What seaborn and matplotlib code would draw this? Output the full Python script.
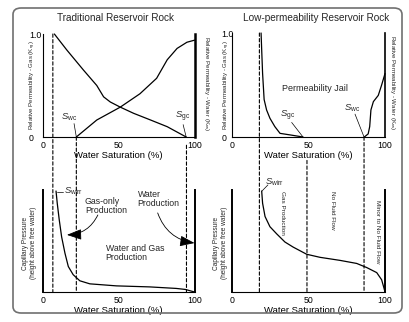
import matplotlib
matplotlib.use('Agg')
import matplotlib.pyplot as plt
import seaborn as sns
import pandas as pd
from matplotlib import font_manager
from matplotlib.patches import ConnectionPatch, FancyBboxPatch

sns.set_style('white')
plt.rcParams['font.family'] = ['Liberation Sans', 'DejaVu Sans']
plt.rcParams['mathtext.fontset'] = 'custom'
plt.rcParams['mathtext.rm'] = 'Liberation Sans'
plt.rcParams['mathtext.it'] = 'Liberation Sans:italic'
plt.rcParams['mathtext.bf'] = 'Liberation Sans:bold'

_installed = {f.name for f in font_manager.fontManager.ttflist}
if 'Liberation Sans Narrow' in _installed:
    NARROW = ['Liberation Sans Narrow', 'Liberation Sans', 'DejaVu Sans']
    NSCALE = 1.2
else:
    NARROW = ['Liberation Sans', 'DejaVu Sans']
    NSCALE = 1.0

# ---------------- data ----------------
panel_titles = ['Traditional Reservoir Rock', 'Low-permeability Reservoir Rock']
x_ticks = [0, 50, 100]
x_tick_labels = ['0', '50', '100']
kr_ticks = [0, 1.0]
kr_tick_labels = ['0', '1.0']

trad_gas_sw = [7.5, 15.7, 26.7, 35.5, 40, 44.4, 51, 59.8, 71, 82, 94.5]
trad_gas_kr = [1.0, 0.845, 0.65, 0.50, 0.39, 0.34, 0.29, 0.23, 0.165, 0.10, 0.0]
trad_wat_sw = [22, 35.5, 51, 64, 75, 82, 88.5, 95, 100]
trad_wat_kr = [0.0, 0.165, 0.29, 0.42, 0.57, 0.75, 0.86, 0.92, 0.94]

low_gas_sw = [19, 19.4, 20, 21, 22.6, 24.8, 28, 31.4, 38, 46.4]
low_gas_kr = [1.0, 0.84, 0.61, 0.36, 0.26, 0.18, 0.10, 0.035, 0.02, 0.0]
low_wat_sw = [86.5, 89, 90, 90.8, 92.4, 95.6, 97.8, 100]
low_wat_kr = [0.0, 0.03, 0.10, 0.26, 0.34, 0.40, 0.50, 0.61]

trad_pc_sw = [8.6, 9.4, 10.7, 12.3, 14.5, 16.7, 19.9, 24.3, 30.9, 48.5, 70.4, 88, 94, 100]
trad_pc = [0.99, 0.87, 0.71, 0.54, 0.38, 0.25, 0.17, 0.11, 0.08, 0.06, 0.05, 0.035, 0.025, 0.0]
low_pc_sw = [19.4, 20, 21.6, 24.8, 29.2, 34.6, 40, 48.8, 57.5, 70.6, 81.5, 88, 94.6, 97.8, 99.3, 100]
low_pc = [0.99, 0.87, 0.74, 0.64, 0.57, 0.49, 0.44, 0.37, 0.34, 0.31, 0.28, 0.24, 0.19, 0.12, 0.04, 0.0]

trad_cutoffs = [6.5, 22, 94.7]      # Swirr, Swc, Sgc dashed lines
low_cutoffs = [17.9, 49, 86.3]

# ---------------- figure ----------------
W, H = 409, 322
fig = plt.figure(figsize=(W / 100, H / 100), dpi=100)


def add_ax(x0, y0, x1, y1):
    return fig.add_axes([x0 / W, 1 - y1 / H, (x1 - x0) / W, (y1 - y0) / H])


ax_tl = add_ax(43, 34, 194.5, 137)
ax_tr = add_ax(232, 33, 385, 137)
ax_bl = add_ax(43, 190, 194.5, 292)
ax_br = add_ax(232, 190, 385, 292)

LW = 0.9
for ax in (ax_tl, ax_tr, ax_bl, ax_br):
    ax.set_xlim(0, 100)
    ax.set_ylim(0, 1)
    ax.set_facecolor('none')
    ax.spines['top'].set_visible(False)
    for s in ('left', 'right', 'bottom'):
        ax.spines[s].set_color('black')
        ax.spines[s].set_linewidth(0.8)
    ax.set_xticks(x_ticks)
    ax.set_xticklabels(x_tick_labels)
    ax.tick_params(axis='both', length=0, pad=3, labelsize=6.3, colors='black')
    ax.set_xlabel('Water Saturation (%)', fontsize=6.8, labelpad=0.8, color='black')

ax_tl.spines['right'].set_linewidth(1.8)
ax_tr.spines['right'].set_linewidth(1.2)
for ax in (ax_bl, ax_br):
    ax.spines['left'].set_linewidth(1.4)
    ax.spines['right'].set_linewidth(1.4)
    ax.set_yticks([])

for ax, pad in ((ax_tl, 10), (ax_tr, 7.5)):
    ax.set_yticks(kr_ticks)
    ax.set_yticklabels(kr_tick_labels)
    ax.tick_params(axis='y', pad=pad)
    for lbl in ax.get_yticklabels():
        lbl.set_horizontalalignment('left')

# curves
sns.lineplot(x=trad_gas_sw, y=trad_gas_kr, ax=ax_tl, color='black', lw=LW, sort=False, estimator=None)
sns.lineplot(x=trad_wat_sw, y=trad_wat_kr, ax=ax_tl, color='black', lw=LW, sort=False, estimator=None)
sns.lineplot(x=low_gas_sw, y=low_gas_kr, ax=ax_tr, color='black', lw=LW, sort=False, estimator=None)
sns.lineplot(x=low_wat_sw, y=low_wat_kr, ax=ax_tr, color='black', lw=LW, sort=False, estimator=None)
sns.lineplot(x=trad_pc_sw, y=trad_pc, ax=ax_bl, color='black', lw=LW, sort=False, estimator=None)
sns.lineplot(x=low_pc_sw, y=low_pc, ax=ax_br, color='black', lw=LW, sort=False, estimator=None)
for ax in (ax_tl, ax_tr, ax_bl, ax_br):
    for ln in ax.lines:
        ln.set_clip_on(False)

# titles
ax_tl.text(0.48, 1.155, panel_titles[0], transform=ax_tl.transAxes, ha='center', va='center', fontsize=7.2)
ax_tr.text(0.55, 1.145, panel_titles[1], transform=ax_tr.transAxes, ha='center', va='center', fontsize=7.2)

# y labels
YL = 4.4 * NSCALE
gas_lbl = 'Relative Permeability - Gas (K$_{\\rm rg}$)'
wat_lbl = 'Relative Permeability - Water (K$_{\\rm rw}$)'
ax_tl.text(-0.066, 0.5, gas_lbl, transform=ax_tl.transAxes, rotation=90, ha='center', va='center', fontsize=YL, family=NARROW)
ax_tl.text(1.08, 0.52, wat_lbl, transform=ax_tl.transAxes, rotation=270, ha='center', va='center', fontsize=YL, family=NARROW)
ax_tr.text(-0.033, 0.5, gas_lbl, transform=ax_tr.transAxes, rotation=90, ha='center', va='center', fontsize=YL, family=NARROW)
ax_tr.text(1.05, 0.52, wat_lbl, transform=ax_tr.transAxes, rotation=270, ha='center', va='center', fontsize=YL, family=NARROW)
pc_lbl = 'Capillary Pressure\n(height above free water)'
ax_bl.text(-0.09, 0.48, pc_lbl, transform=ax_bl.transAxes, rotation=90, ha='center', va='center', fontsize=4.7 * NSCALE, family=NARROW, linespacing=1.25)
ax_br.text(-0.075, 0.48, pc_lbl, transform=ax_br.transAxes, rotation=90, ha='center', va='center', fontsize=4.7 * NSCALE, family=NARROW, linespacing=1.25)

# dashed cut-off lines spanning panels
DASH = (0, (3, 2))


def dash(ax_a, ya, ax_b, yb, x):
    con = ConnectionPatch(xyA=(x, ya), coordsA=ax_a.transData, xyB=(x, yb), coordsB=ax_b.transData,
                          linestyle=DASH, lw=0.8, color='black')
    fig.add_artist(con)


dash(ax_tl, 1.0, ax_bl, 0.0, trad_cutoffs[0])
dash(ax_tl, 0.0, ax_bl, 0.0, trad_cutoffs[1])
dash(ax_tl, -0.08, ax_bl, 0.0, trad_cutoffs[2])
dash(ax_tr, 1.0, ax_br, 0.0, low_cutoffs[0])
dash(ax_br, 1.29, ax_br, 0.0, low_cutoffs[1])
dash(ax_tr, 0.0, ax_br, 0.0, low_cutoffs[2])

# annotations top-left
ann = dict(fontsize=6.8)
ax_tl.text(17.5, 0.19, '$S_{\\rm wc}$', ha='center', va='center', **ann)
ax_tl.plot([20.5, 22], [0.13, 0.0], color='black', lw=0.5)
ax_tl.text(92, 0.19, '$S_{\\rm gc}$', ha='center', va='center', **ann)
ax_tl.plot([92.5, 94.5], [0.12, 0.0], color='black', lw=0.5)

# annotations top-right
ax_tr.text(54, 0.47, 'Permeability Jail', ha='center', va='center', fontsize=6.5)
ax_tr.text(36.6, 0.2, '$S_{\\rm gc}$', ha='center', va='center', **ann)
ax_tr.plot([39, 46.4], [0.14, 0.0], color='black', lw=0.5)
ax_tr.text(78.4, 0.28, '$S_{\\rm wc}$', ha='center', va='center', **ann)
ax_tr.plot([80.4, 86.3], [0.22, 0.0], color='black', lw=0.5)

# annotations bottom-left
ax_bl.plot([9.4, 13.4], [0.985, 0.985], color='black', lw=0.5, clip_on=False)
ax_bl.text(14, 0.985, '$S_{\\rm wirr}$', ha='left', va='center', **ann)
ax_bl.text(27.6, 0.84, 'Gas-only\nProduction', ha='left', va='center', fontsize=6.3, linespacing=1.0)
ax_bl.text(62.5, 0.91, 'Water\nProduction', ha='left', va='center', fontsize=6.3, linespacing=1.0)
ax_bl.text(41.4, 0.38, 'Water and Gas\nProduction', ha='left', va='center', fontsize=6.3, linespacing=1.0)
arrow_kw = dict(arrowstyle='-|>,head_length=0.9,head_width=0.33', color='black', lw=0.6, shrinkA=0, shrinkB=0)
ax_bl.annotate('', xy=(15.8, 0.56), xytext=(36.2, 0.755),
               arrowprops=dict(connectionstyle='arc3,rad=-0.3', **arrow_kw), annotation_clip=False)
ax_bl.annotate('', xy=(100, 0.48), xytext=(75.7, 0.775),
               arrowprops=dict(connectionstyle='arc3,rad=0.3', **arrow_kw), annotation_clip=False)

# annotations bottom-right
RT = 4.6 * NSCALE
ax_br.text(28, 1.08, '$S_{\\rm wirr}$', ha='center', va='center', **ann)
ax_br.plot([23.5, 19.6], [1.05, 0.99], color='black', lw=0.5, clip_on=False)
ax_br.text(32.7, 0.78, 'Gas Production', rotation=270, ha='center', va='center', fontsize=RT, family=NARROW)
ax_br.text(65.4, 0.80, 'No Fluid Flow', rotation=270, ha='center', va='center', fontsize=RT, family=NARROW)
ax_br.text(94.8, 0.59, 'Minor to No Fluid Flow', rotation=270, ha='center', va='center', fontsize=RT, family=NARROW)

# rounded outer frame
frame = FancyBboxPatch((13 / W, 1 - 313 / H), (402 - 13) / W, (313 - 8) / H,
                       boxstyle='round,pad=0,rounding_size=0.02', transform=fig.transFigure,
                       fill=False, edgecolor='#707070', lw=1.2)
fig.add_artist(frame)

fig.savefig('out.png', dpi=100, facecolor='white')
